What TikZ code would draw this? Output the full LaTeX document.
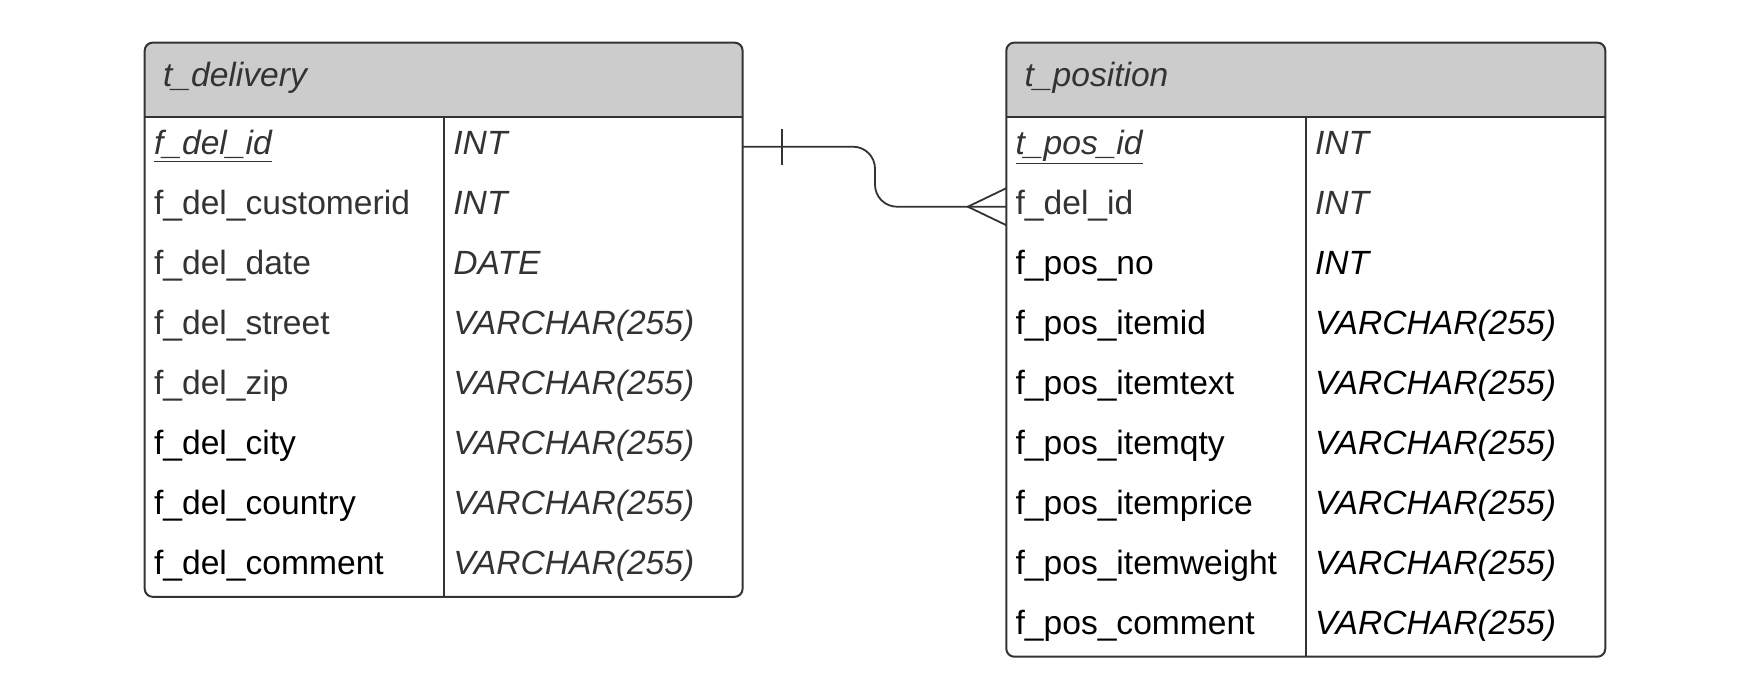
\documentclass[tikz,border=0pt]{standalone}
\usepackage{fontspec}
\setmainfont{Liberation Sans}
\usetikzlibrary{positioning, calc}
\definecolor{darkline}{HTML}{333333}
\definecolor{headgray}{HTML}{CCCCCC}
\definecolor{softtext}{HTML}{333333}

\begin{document}
\begin{tikzpicture}[x=0.5pt, y=-0.5pt,
  tblline/.style={draw=darkline, line width=1pt},
  colname/.style={anchor=base west, inner sep=0pt, font=\fontsize{16.8}{20}\selectfont},
  coltype/.style={anchor=base west, inner sep=0pt, font=\fontsize{16.8}{20}\selectfont\itshape},
  fkline/.style={draw=darkline, line width=0.9pt}]
  \useasboundingbox (0,0) rectangle (1759,692);

  % Table t_delivery
  \fill[headgray, rounded corners=4pt] (144.7,116.7) -- (144.7,42.6) -- (742.6,42.6) -- (742.6,116.7);
  \draw[tblline, rounded corners=4pt] (144.7,42.6) rectangle (742.6,596.8);
  \draw[tblline] (144.7,116.7) -- (742.6,116.7);
  \draw[tblline] (444.2,116.7) -- (444.2,596.8);
  \node[coltype, softtext] (delhead) at (162.7,86.5) {t\_delivery};

  \node[coltype, softtext] (delid) at (153.7,154) {\underline{f\_del\_id}};
  \node[colname, softtext] (delcust) at (153.7,214) {f\_del\_customerid};
  \node[colname, softtext] (deldate) at (153.7,274) {f\_del\_date};
  \node[colname, softtext] (delstreet) at (153.7,334) {f\_del\_street};
  \node[colname, softtext] (delzip) at (153.7,394) {f\_del\_zip};
  \node[colname] (delcity) at (153.7,454) {f\_del\_city};
  \node[colname] (delcountry) at (153.7,514) {f\_del\_country};
  \node[colname] (delcomment) at (153.7,574) {f\_del\_comment};

  \node[coltype, softtext] (delid-t) at (453,154) {INT};
  \node[coltype, softtext] (delcust-t) at (453,214) {INT};
  \node[coltype, softtext] (deldate-t) at (453,274) {DATE};
  \node[coltype, softtext] (delstreet-t) at (453,334) {VARCHAR(255)};
  \node[coltype, softtext] (delzip-t) at (453,394) {VARCHAR(255)};
  \node[coltype, softtext] (delcity-t) at (453,454) {VARCHAR(255)};
  \node[coltype, softtext] (delcountry-t) at (453,514) {VARCHAR(255)};
  \node[coltype, softtext] (delcomment-t) at (453,574) {VARCHAR(255)};

  % Table t_position
  \fill[headgray, rounded corners=4pt] (1006.3,116.7) -- (1006.3,42.6) -- (1605.3,42.6) -- (1605.3,116.7);
  \draw[tblline, rounded corners=4pt] (1006.3,42.6) rectangle (1605.3,656.7);
  \draw[tblline] (1006.3,116.7) -- (1605.3,116.7);
  \draw[tblline] (1305.8,116.7) -- (1305.8,656.7);
  \node[coltype, softtext] (poshead) at (1024.2,86.5) {t\_position};

  \node[coltype, softtext] (posid) at (1015.2,154) {\underline{t\_pos\_id}};
  \node[colname, softtext] (posdel) at (1015.2,214) {f\_del\_id};
  \node[colname] (posno) at (1015.2,274) {f\_pos\_no};
  \node[colname] (positem) at (1015.2,334) {f\_pos\_itemid};
  \node[colname] (postext) at (1015.2,394) {f\_pos\_itemtext};
  \node[colname] (posqty) at (1015.2,454) {f\_pos\_itemqty};
  \node[colname] (posprice) at (1015.2,514) {f\_pos\_itemprice};
  \node[colname] (posweight) at (1015.2,574) {f\_pos\_itemweight};
  \node[colname] (poscomment) at (1015.2,634) {f\_pos\_comment};

  \node[coltype, softtext] (posid-t) at (1314.7,154) {INT};
  \node[coltype, softtext] (posdel-t) at (1314.7,214) {INT};
  \node[coltype] (posno-t) at (1314.7,274) {INT};
  \node[coltype] (positem-t) at (1314.7,334) {VARCHAR(255)};
  \node[coltype] (postext-t) at (1314.7,394) {VARCHAR(255)};
  \node[coltype] (posqty-t) at (1314.7,454) {VARCHAR(255)};
  \node[coltype] (posprice-t) at (1314.7,514) {VARCHAR(255)};
  \node[coltype] (posweight-t) at (1314.7,574) {VARCHAR(255)};
  \node[coltype] (poscomment-t) at (1314.7,634) {VARCHAR(255)};

  % Relation: one delivery -- many positions
  \coordinate (delfk) at (742.6,146.7);
  \coordinate (posfk) at (1006.3,206.7);
  \coordinate (knee) at (875,176.7);
  \draw[fkline, rounded corners=11pt] (delfk) -- (delfk -| knee) -- (posfk -| knee) -- (posfk);
  % one mark
  \draw[darkline, line width=0.6pt] (delfk) ++(39.3,-18) -- ++(0,36);
  % crow's foot
  \draw[fkline] ($(posfk)+(0,-18.5)$) -- ($(posfk)+(-38.5,0)$) -- ($(posfk)+(0,18.5)$);
\end{tikzpicture}
\end{document}
